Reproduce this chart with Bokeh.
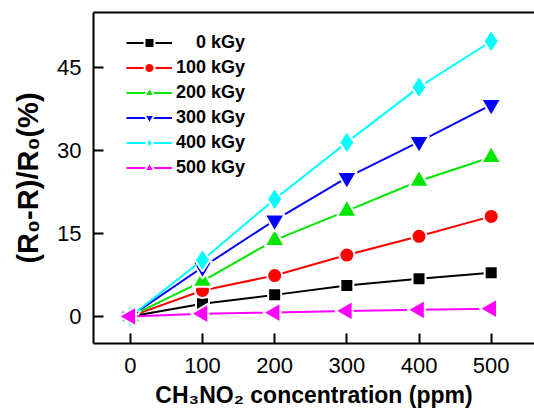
import numpy as np
from bokeh.plotting import figure
from bokeh.models import LinearAxis, FixedTicker, Legend, LegendItem, Range1d
from bokeh.embed import file_html
from bokeh.resources import INLINE

conc = [0, 100, 200, 300, 400, 500]
doses = ["\u2007\u20070 kGy", "100 kGy", "200 kGy", "300 kGy", "400 kGy", "500 kGy"]
resp_0 = [0, 2.3, 3.9, 5.6, 6.8, 7.9]
resp_100 = [0, 4.7, 7.4, 11.1, 14.5, 18.1]
resp_200 = [0, 6.4, 13.8, 19.1, 24.5, 28.8]
resp_300 = [0, 8.9, 17.4, 25.1, 31.6, 38.3]
resp_400 = [0, 10.2, 21.2, 31.5, 41.5, 49.8]
resp_500 = [0, 0.5, 0.7, 1.0, 1.2, 1.4]
series = [resp_0, resp_100, resp_200, resp_300, resp_400, resp_500]
colors = ["#000000", "#ff0000", "#00e600", "#0000ff", "#00ffff", "#ff00ff"]
markers = ["square", "circle", "triangle", "inverted_triangle", "diamond", "triangle"]
sizes = [13, 15, 20, 20, 23, 20]
angles = [0, 0, 0, 0, 0, np.pi / 2]
x_ticks = [0, 100, 200, 300, 400, 500]
y_ticks = [0, 15, 30, 45]

p = figure(width=534, height=412, output_backend="svg", toolbar_location=None,
           x_range=Range1d(-51, 560), y_range=Range1d(-4.9, 55),
           min_border_left=93, min_border_right=0, min_border_top=12, min_border_bottom=69,
           x_axis_label="CH\u2083NO\u2082 concentration (ppm)",
           y_axis_label="(R\u2080-R)/R\u2080(%)")
p.outline_line_color = None
p.grid.visible = False
p.background_fill_color = "white"
p.border_fill_color = "white"

for ax in (p.xaxis[0], p.yaxis[0]):
    ax.axis_line_width = 2
    ax.major_tick_line_width = 2
    ax.major_tick_in = 10
    ax.major_tick_out = 0
    ax.minor_tick_line_color = None
    ax.major_label_text_font = "Liberation Sans"
    ax.major_label_text_font_size = "22px"
    ax.major_label_text_color = "black"
    ax.axis_label_text_font = "Liberation Sans"
    ax.axis_label_text_font_style = "bold"
    ax.axis_label_text_color = "black"
p.xaxis[0].axis_label_text_font_size = "23px"
p.yaxis[0].axis_label_text_font_size = "29px"
p.xaxis[0].ticker = FixedTicker(ticks=x_ticks)
p.yaxis[0].ticker = FixedTicker(ticks=y_ticks)
p.xaxis[0].major_label_standoff = 14
p.xaxis[0].axis_label_standoff = 6
p.yaxis[0].major_label_standoff = 12
p.yaxis[0].axis_label_standoff = 10

top = LinearAxis(ticker=FixedTicker(ticks=[]), axis_line_width=2,
                 major_label_text_font_size="0px", major_tick_line_color=None,
                 minor_tick_line_color=None)
p.add_layout(top, "above")

items = []
for ys, c, m, s, a, lab in zip(series, colors, markers, sizes, angles, doses):
    ln = p.line(conc, ys, line_color=c, line_width=2)
    sc = p.scatter(conc, ys, marker=m, size=s, angle=a, fill_color=c,
                   line_color="white", line_width=2)
    items.append(LegendItem(label=lab, renderers=[ln, sc]))

legend = Legend(items=items, location=(33, 163), orientation="vertical",
                glyph_width=46, glyph_height=25, label_height=25, spacing=0,
                padding=0, margin=0, label_standoff=4,
                label_text_font="Liberation Sans", label_text_font_style="bold",
                label_text_font_size="18px", label_text_color="black",
                border_line_color=None, background_fill_alpha=0)
p.add_layout(legend, "center")

open("out.html", "w").write(file_html(p, INLINE))
